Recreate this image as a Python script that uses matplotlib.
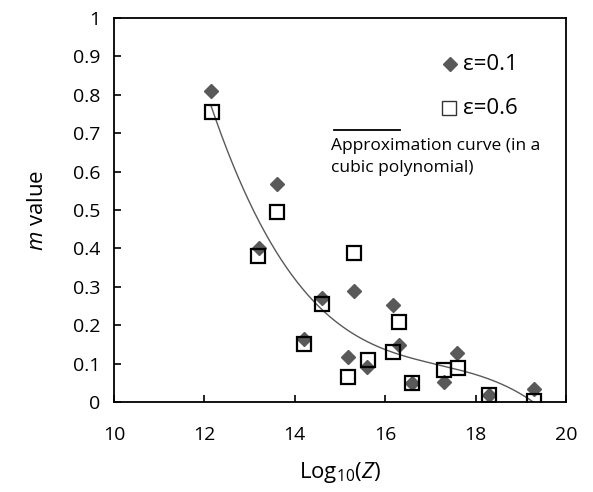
import numpy as np
import matplotlib
matplotlib.use("Agg")
import matplotlib.pyplot as plt

plt.rcParams['font.family'] = ['Open Sans', 'DejaVu Sans']
plt.rcParams['mathtext.fontset'] = 'custom'
plt.rcParams['mathtext.rm'] = 'Open Sans'
plt.rcParams['mathtext.it'] = 'Open Sans:italic'

# Data
log_z_01 = [12.15, 13.6, 13.2, 14.6, 15.3, 14.2, 15.18, 15.6, 16.18, 16.3, 16.6, 17.3, 17.58, 18.3, 19.3]
m_01 = [0.81, 0.567, 0.40, 0.272, 0.289, 0.163, 0.116, 0.092, 0.253, 0.148, 0.049, 0.053, 0.128, 0.018, 0.034]

log_z_06 = [12.17, 13.6, 13.19, 14.6, 15.31, 14.2, 15.18, 15.61, 16.18, 16.3, 16.6, 17.3, 17.6, 18.3, 19.3]
m_06 = [0.754, 0.494, 0.380, 0.254, 0.387, 0.150, 0.066, 0.109, 0.129, 0.209, 0.050, 0.083, 0.088, 0.018, 0.003]

x_ticks = [10, 12, 14, 16, 18, 20]
y_ticks = [0, 0.1, 0.2, 0.3, 0.4, 0.5, 0.6, 0.7, 0.8, 0.9, 1]
y_tick_labels = ['0', '0.1', '0.2', '0.3', '0.4', '0.5', '0.6', '0.7', '0.8', '0.9', '1']

W, H = 593, 492
fig = plt.figure(figsize=(W / 100, H / 100), dpi=100)
ax = fig.add_axes([114 / W, 1 - 402 / H, (566 - 114) / W, (402 - 18) / H])

gray = '#595959'

# cubic polynomial approximation of all points
xs_all = np.array(log_z_01 + log_z_06)
ys_all = np.array(m_01 + m_06)
coef = np.polyfit(xs_all, ys_all, 3)
xc = np.linspace(min(xs_all), max(xs_all), 300)
ax.plot(xc, np.polyval(coef, xc), color=gray, lw=1.0, zorder=1)

ax.plot(log_z_01, m_01, linestyle='none', marker='D', markersize=7.6,
        color=gray, markeredgecolor=gray, zorder=2)
ax.plot(log_z_06, m_06, linestyle='none', marker='s', markersize=10,
        markerfacecolor='none', markeredgecolor='black', markeredgewidth=1.6, zorder=3)

ax.set_xlim(10, 20)
ax.set_ylim(0, 1)
ax.set_xticks(x_ticks)
ax.set_yticks(y_ticks)
ax.set_yticklabels(y_tick_labels)
ax.tick_params(axis='both', direction='in', length=5, width=1.2, labelsize=14,
               colors='black')
ax.tick_params(axis='y', pad=10)
ax.tick_params(axis='x', pad=17)
for s in ax.spines.values():
    s.set_linewidth(1.3)

ax.set_xlabel(r'Log$_{\mathregular{10}}$($\mathit{Z}$)', fontsize=16, labelpad=12)
ax.set_ylabel(r'$\mathit{m}$ value', fontsize=16, labelpad=18)

# legend drawn by hand
def fx(px):
    return px / W

def fy(py):
    return 1 - py / H

fig.lines.append(plt.Line2D([fx(450)], [fy(64)], marker='D', markersize=7.6, color=gray,
                            linestyle='none', transform=fig.transFigure))
fig.text(fx(463), fy(64), 'ε=0.1', fontsize=16, va='center', ha='left')
fig.lines.append(plt.Line2D([fx(449)], [fy(108)], marker='s', markersize=10,
                            markerfacecolor='none', markeredgecolor='#333333',
                            markeredgewidth=1.0, linestyle='none', transform=fig.transFigure))
fig.text(fx(463), fy(108), 'ε=0.6', fontsize=16, va='center', ha='left')
fig.lines.append(plt.Line2D([fx(334), fx(400)], [fy(130), fy(130)], color='black', lw=1.3,
                            transform=fig.transFigure))
fig.text(fx(331), fy(146), 'Approximation curve (in a', fontsize=12.5, va='center', ha='left')
fig.text(fx(331), fy(168), 'cubic polynomial)', fontsize=12.5, va='center', ha='left')

fig.savefig('out.png', dpi=100)
